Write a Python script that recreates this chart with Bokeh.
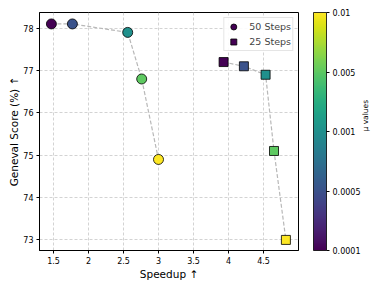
import math
from bokeh.plotting import figure
from bokeh.models import (ColorBar, LinearColorMapper, FixedTicker, Range1d, LinearAxis,
                          ColumnDataSource, Legend, LegendItem)
from bokeh.palettes import Viridis256
from bokeh.embed import file_html
from bokeh.resources import INLINE

speedup_50 = [1.47, 1.77, 2.56, 2.76, 3.00]
score_50 = [78.1, 78.1, 77.9, 76.8, 74.9]
speedup_25 = [3.93, 4.22, 4.53, 4.65, 4.82]
score_25 = [77.2, 77.1, 76.9, 75.1, 73.0]
mu_labels = ["0.0001", "0.0005", "0.001", "0.005", "0.01"]
mu_index = [0, 1, 2, 3, 4]
x_ticks = [1.5, 2.0, 2.5, 3.0, 3.5, 4.0, 4.5]
y_ticks = [73, 74, 75, 76, 77, 78]

FONT = "DejaVu Sans"
FW, FH = 259, 238

p = figure(output_backend="svg", toolbar_location=None,
           x_range=Range1d(1.3, 5.0), y_range=Range1d(72.75, 78.37),
           frame_width=FW, frame_height=FH,
           min_border_left=39, min_border_top=12, min_border_bottom=36, min_border_right=82)
p.background_fill_color = "white"
p.border_fill_color = "white"
p.outline_line_color = "black"
p.outline_line_width = 1

mapper = LinearColorMapper(palette=Viridis256, low=0, high=4)

src50 = ColumnDataSource(dict(x=speedup_50, y=score_50, mu=mu_index))
src25 = ColumnDataSource(dict(x=speedup_25, y=score_25, mu=mu_index))

p.line("x", "y", source=src50, line_color="#b8b8b8", line_dash="4 2", line_width=1.2)
p.line("x", "y", source=src25, line_color="#b8b8b8", line_dash="4 2", line_width=1.2)
r50 = p.scatter("x", "y", source=src50, marker="circle", size=10,
                fill_color={"field": "mu", "transform": mapper},
                line_color="black", line_width=0.8)
r25 = p.scatter("x", "y", source=src25, marker="square", size=9,
                fill_color={"field": "mu", "transform": mapper},
                line_color="black", line_width=0.8)

legend = Legend(items=[LegendItem(label="50 Steps", renderers=[r50], index=0),
                       LegendItem(label="25 Steps", renderers=[r25], index=0)],
                location="top_right")
legend.label_text_font = FONT
legend.label_text_font_size = "9.5px"
legend.label_height = 14
legend.glyph_height = 15
legend.glyph_width = 16
legend.spacing = 0
legend.padding = 1
legend.margin = 5
legend.label_standoff = 8
legend.border_line_color = "#cccccc"
legend.border_line_width = 1
legend.background_fill_alpha = 0.9
p.add_layout(legend)

for ax in (p.xaxis, p.yaxis):
    ax.axis_line_color = "black"
    ax.major_tick_line_color = "black"
    ax.minor_tick_line_color = None
    ax.major_tick_in = 0
    ax.major_tick_out = 3
    ax.major_label_text_font = FONT
    ax.major_label_text_font_size = "8px"
    ax.major_label_text_color = "black"
    ax.major_label_standoff = 3
    ax.axis_label_text_font = FONT
    ax.axis_label_text_font_size = "10.5px"
    ax.axis_label_text_font_style = "normal"
    ax.axis_label_text_color = "black"

p.xaxis.axis_label_standoff = 1
p.yaxis.axis_label_standoff = 0
p.xaxis.ticker = FixedTicker(ticks=x_ticks)
p.yaxis.ticker = FixedTicker(ticks=y_ticks)
p.xaxis.axis_label = "Speedup ↑"
p.yaxis.axis_label = "Geneval Score (%) ↑"

p.grid.grid_line_color = "#c8c8c8"
p.grid.grid_line_dash = "3 2"
p.grid.grid_line_width = 0.8
p.xgrid.ticker = FixedTicker(ticks=x_ticks)
p.ygrid.ticker = FixedTicker(ticks=y_ticks)

cb = ColorBar(color_mapper=mapper, width=13, height=FH, padding=0, margin=0,
              location=(FW + 15, 0),
              ticker=FixedTicker(ticks=mu_index),
              major_label_overrides={i: l for i, l in zip(mu_index, mu_labels)},
              bar_line_color="black", bar_line_width=0.8,
              major_tick_line_color="black", major_tick_in=0, major_tick_out=3,
              minor_tick_line_color=None,
              major_label_text_font=FONT, major_label_text_font_size="8px",
              major_label_text_color="black", label_standoff=3,
              border_line_color=None, background_fill_color=None)
p.add_layout(cb)

mu_axis = LinearAxis(ticker=FixedTicker(ticks=[]), axis_line_color=None,
                     major_tick_out=0, major_tick_in=0, major_label_standoff=0,
                     minor_tick_line_color=None, major_tick_line_color=None,
                     axis_label="μ values", axis_label_standoff=67,
                     axis_label_orientation=math.pi / 2,
                     axis_label_text_font=FONT, axis_label_text_font_size="7.5px",
                     axis_label_text_font_style="normal", axis_label_text_color="black")
p.add_layout(mu_axis, "right")

open("out.html", "w").write(file_html(p, INLINE))
